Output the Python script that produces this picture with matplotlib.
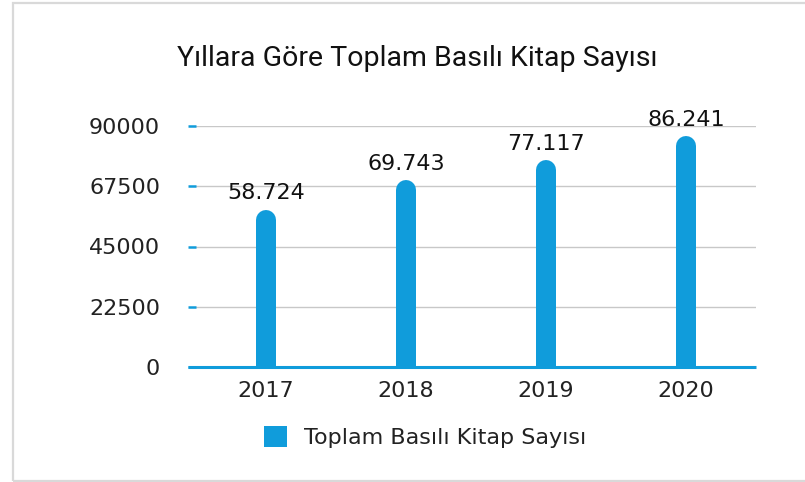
import matplotlib
matplotlib.use("Agg")
import matplotlib.pyplot as plt
import matplotlib.transforms as mtransforms
from matplotlib.patches import Patch, Rectangle

years = ["2017", "2018", "2019", "2020"]
values = [58724, 69743, 77117, 86241]
value_labels = ["58.724", "69.743", "77.117", "86.241"]
yticks = [0, 22500, 45000, 67500, 90000]
title = "Yıllara Göre Toplam Basılı Kitap Sayısı"
series_name = "Toplam Basılı Kitap Sayısı"

BLUE = "#109cdb"
W, H = 805, 482
fig = plt.figure(figsize=(W / 100, H / 100), dpi=100)
fig.patch.set_facecolor("white")

# outer frame
fig.patches.append(Rectangle((13 / W, 1 / H), 1.0, (479 - 1) / H, transform=fig.transFigure,
                             fill=False, edgecolor="#d9d9d9", linewidth=1.6))

ax = fig.add_axes([196 / W, 1 - 367 / H, 560 / W, (367 - 126) / H])
ax.set_xlim(-0.5, 3.5)
ax.set_ylim(0, 90000)

numfont = ["DejaVu Sans"]

# bars with rounded tops: thick lines with round caps shifted by the cap radius
bar_px = 20
off = mtransforms.offset_copy(ax.transData, fig=fig, x=0, y=-bar_px / 2, units="dots")
x = list(range(len(years)))
ax.vlines(x, [-9000] * len(x), values, colors=BLUE, linewidth=bar_px * 72 / 100,
          capstyle="round", transform=off, zorder=3)

for xi, v, lab in zip(x, values, value_labels):
    ax.annotate(lab, (xi, v), xytext=(0, 7.5), textcoords="offset points",
                ha="center", va="baseline", fontsize=16, color="#111111",
                family=numfont, annotation_clip=False, zorder=4)

ax.set_yticks(yticks)
ax.set_yticklabels([str(t) for t in yticks], family=numfont, fontsize=16, color="#222222")
ax.set_xticks(x)
ax.set_xticklabels(years, family=numfont, fontsize=16, color="#222222")
ax.tick_params(axis="y", length=5.8, width=1.8, color=BLUE, pad=20)
ax.tick_params(axis="x", length=0, pad=10)
ax.yaxis.grid(True, color="#c8c8c8", linewidth=1)
ax.set_axisbelow(True)
for s in ["top", "right", "left", "bottom"]:
    ax.spines[s].set_visible(False)
ax.plot([-8 / 560, 1], [0, 0], transform=ax.transAxes, color=BLUE, linewidth=2.2,
        clip_on=False, zorder=5, solid_capstyle="butt")

fig.text(417 / W, 1 - 66 / H, title, ha="center", va="baseline", fontsize=20.5,
         family=["Roboto", "DejaVu Sans"], color="#111111")

leg = fig.legend(handles=[Patch(facecolor=BLUE, edgecolor="none", label=series_name)],
                 loc="center", bbox_to_anchor=(425 / W, 1 - 437 / H), frameon=False,
                 prop={"family": numfont, "size": 16}, handlelength=1.05, handleheight=1.05,
                 handletextpad=0.75, borderpad=0, borderaxespad=0)
for t in leg.get_texts():
    t.set_color("#222222")

fig.savefig("out.png", dpi=100, facecolor="white")
